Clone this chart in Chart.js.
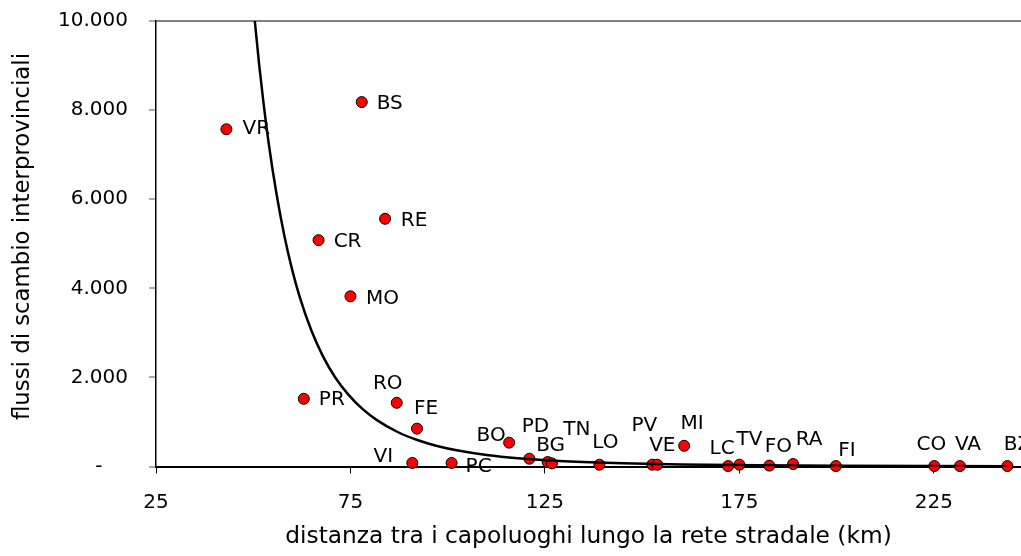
<!DOCTYPE html>
<html>
<head>
<meta charset="utf-8">
<script src="https://cdn.jsdelivr.net/npm/chart.js@4/dist/chart.umd.min.js"></script>
<style>
  body { margin: 0; background: #fff; }
  canvas { display: block; }
</style>
</head>
<body>
<canvas id="chart" width="1021" height="556"></canvas>
<script>
// province codes, distance between capitals (km), exchange flows
const provinces = ['VR', 'BS', 'RE', 'CR', 'MO', 'PR', 'RO', 'FE', 'VI', 'PC', 'BO', 'PD', 'BG',
  'TN', 'LO', 'PV', 'VE', 'MI', 'LC', 'TV', 'FO', 'RA', 'FI', 'CO', 'VA', 'BZ'];
const distances = [43.1, 77.9, 83.9, 66.8, 75.0, 63.0, 86.9, 92.1, 90.9, 101.0, 115.8, 121.0, 125.7,
  126.8, 139.0, 152.6, 153.9, 160.8, 172.1, 175.0, 182.7, 188.8, 199.8, 225.1, 231.7, 243.9];
const flows = [7570, 8180, 5560, 5080, 3820, 1520, 1430, 850, 80, 80, 535, 175, 100,
  70, 40, 40, 40, 465, 10, 40, 20, 55, 10, 10, 10, 10];

// trend curve
const curveX = [49.5, 50.4, 51.5, 52.6, 54, 56, 58, 60, 62, 65, 68, 71, 74.4, 78, 82, 87, 92, 97,
  103, 110, 118, 130, 145, 160, 180, 200, 225, 244];
const curveY = [10880, 10000, 9040, 8190, 7240, 6110, 5180, 4420, 3790, 3040, 2460, 2010, 1620, 1300,
  1030, 780, 600, 467, 353, 259, 187, 119, 71, 45, 26, 16, 9, 6];

const xTicks = [25, 75, 125, 175, 225];
const yTicks = [0, 2000, 4000, 6000, 8000, 10000];

// label offsets from each point, in pixels
const labelOffsets = {
  VR: [30, 0], BS: [28, 2], RE: [29, 2], CR: [29, 2], MO: [32, 2], PR: [28, 1],
  RO: [-9, -19], FE: [9, -20], VI: [-29, -6], PC: [27, 4], BO: [-18, -7], PD: [6, -32],
  BG: [3, -16], TN: [25, -34], LO: [6, -22], PV: [-8, -39], VE: [5, -19], MI: [8, -22],
  LC: [-6, -17], TV: [10, -25], FO: [9, -19], RA: [16, -24], FI: [11, -15], CO: [-3, -21],
  VA: [8, -21], BZ: [10, -21]
};

const FONT = '"DejaVu Sans", Verdana, sans-serif';

function formatThousands(v) {
  if (v === 0) return '-    ';
  return String(v).replace(/\B(?=(\d{3})+(?!\d))/g, '.');
}

const pointLabels = {
  id: 'pointLabels',
  afterDatasetsDraw(chart) {
    const ctx = chart.ctx;
    const meta = chart.getDatasetMeta(1);
    ctx.save();
    ctx.font = '20px ' + FONT;
    ctx.fillStyle = '#000';
    ctx.textAlign = 'center';
    ctx.textBaseline = 'middle';
    meta.data.forEach((pt, i) => {
      const name = provinces[i];
      const off = labelOffsets[name] || [0, 0];
      ctx.fillText(name, pt.x + off[0], pt.y + off[1]);
    });
    ctx.restore();
  }
};

new Chart(document.getElementById('chart'), {
  type: 'scatter',
  data: {
    datasets: [
      {
        type: 'line',
        label: 'curva',
        data: curveX.map((x, i) => ({ x: x, y: curveY[i] })),
        borderColor: '#000',
        borderWidth: 2.5,
        pointRadius: 0,
        fill: false,
        cubicInterpolationMode: 'monotone',
        order: 0
      },
      {
        label: 'flussi',
        data: distances.map((x, i) => ({ x: x, y: flows[i] })),
        backgroundColor: '#ff0000',
        borderColor: '#000',
        borderWidth: 1,
        pointRadius: 5.5,
        clip: false,
        order: 1
      }
    ]
  },
  options: {
    responsive: false,
    devicePixelRatio: 1,
    animation: false,
    events: [],
    layout: { autoPadding: false, padding: { top: 21, right: 0, left: 0, bottom: 0 } },
    plugins: {
      legend: { display: false },
      tooltip: { enabled: false }
    },
    scales: {
      x: {
        type: 'linear',
        min: 25,
        max: 247.4,
        afterBuildTicks: (scale) => { scale.ticks = xTicks.map(v => ({ value: v })); },
        afterFit: (scale) => {
          scale.height = 556 - 466.5;
          scale.paddingLeft = 0;
          scale.paddingRight = 0;
        },
        ticks: {
          font: { family: FONT, size: 20 },
          color: '#000',
          padding: 17,
          maxRotation: 0
        },
        grid: {
          color: 'rgba(0,0,0,0)',
          tickColor: '#000',
          tickLength: 7,
          tickWidth: 1
        },
        border: { color: '#000', width: 2 },
        title: {
          display: true,
          text: 'distanza tra i capoluoghi lungo la rete stradale (km)',
          font: { family: FONT, size: 23.3 },
          color: '#000',
          padding: { top: 0, bottom: 5 }
        }
      },
      y: {
        min: 0,
        max: 10000,
        afterBuildTicks: (scale) => { scale.ticks = yTicks.map(v => ({ value: v })); },
        afterFit: (scale) => {
          scale.width = 156;
          scale.paddingTop = 0;
          scale.paddingBottom = 0;
        },
        ticks: {
          font: { family: FONT, size: 20 },
          color: '#000',
          padding: 21,
          callback: (v) => formatThousands(v)
        },
        grid: {
          color: (c) => (c.tick && c.tick.value === 10000 ? '#808080' : 'rgba(0,0,0,0)'),
          lineWidth: 2,
          tickColor: '#555',
          tickLength: 7,
          tickWidth: 1
        },
        border: { color: '#000', width: 1.5 },
        title: {
          display: true,
          text: '  flussi di scambio interprovinciali',
          font: { family: FONT, size: 22.8 },
          color: '#000',
          padding: { top: 9, bottom: 0 }
        }
      }
    }
  },
  plugins: [pointLabels]
});
</script>
</body>
</html>
